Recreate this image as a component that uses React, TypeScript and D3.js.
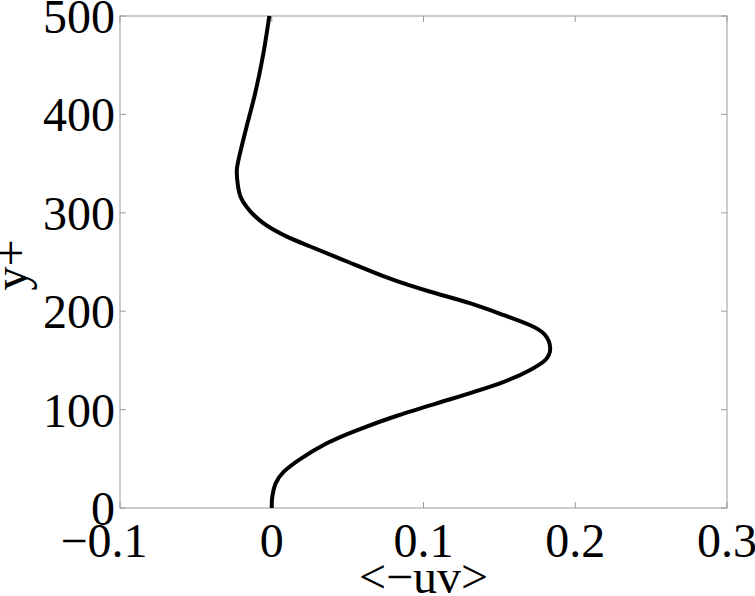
import React from "react";
import * as d3 from "d3";

const yPlus = [0, 11, 25, 37, 50, 66, 79, 94, 110, 128, 140, 150, 162, 176, 186, 196, 208, 220, 233, 249, 266, 275, 283, 290, 298, 306, 316, 330, 344, 360, 388, 421, 462, 500];
const uv = [0, 0.0003, 0.0025, 0.008, 0.019, 0.0366, 0.056, 0.083, 0.1165, 0.1525, 0.17, 0.18, 0.1835, 0.18, 0.17, 0.153, 0.131, 0.104, 0.078, 0.052, 0.025, 0.011, 0.001, -0.006, -0.012, -0.0165, -0.0205, -0.0225, -0.023, -0.021, -0.0165, -0.011, -0.0055, -0.0016];

const xTicks = [-0.1, 0, 0.1, 0.2, 0.3];
const xTickLabels = ["\u22120.1", "0", "0.1", "0.2", "0.3"];
const yTicks = [0, 100, 200, 300, 400, 500];
const yTickLabels = ["0", "100", "200", "300", "400", "500"];
const xLabel = "<\u2212uv>";
const yLabel = "y+";

const W = 755;
const H = 596;
const left = 120;
const right = 727;
const top = 16;
const bottom = 508;

export default function App() {
  const x = d3.scaleLinear().domain([-0.1, 0.3]).range([left, right]);
  const y = d3.scaleLinear().domain([0, 500]).range([bottom, top]);
  const pts: [number, number][] = yPlus.map((v, i) => [uv[i], v]);
  const line = d3
    .line<[number, number]>()
    .x((d) => x(d[0]))
    .y((d) => y(d[1]))
    .curve(d3.curveNatural);
  const font = "'Liberation Serif', 'Times New Roman', serif";
  const axisColor = "#9a9a9a";
  const tl = 6;
  return (
    <svg
      width={W}
      height={H}
      style={{ position: "fixed", left: 0, top: 0, background: "#fff" }}
      fontFamily={font}
    >
      <rect x={0} y={0} width={W} height={H} fill="#fff" />
      {xTicks.map((t, i) => (
        <g key={"xt" + i}>
          <line x1={x(t)} x2={x(t)} y1={bottom} y2={bottom - tl} stroke={axisColor} strokeWidth={1} />
          <line x1={x(t)} x2={x(t)} y1={top} y2={top + tl} stroke={axisColor} strokeWidth={1} />
          <text
            x={x(t)}
            y={557}
            dx={xTickLabels[i].startsWith("\u2212") ? -16 : 0}
            textAnchor="middle"
            fontSize={48}
            fill="#000"
          >
            {xTickLabels[i]}
          </text>
        </g>
      ))}
      {yTicks.map((t, i) => (
        <g key={"yt" + i}>
          <line x1={left} x2={left + tl} y1={y(t)} y2={y(t)} stroke={axisColor} strokeWidth={1} />
          <line x1={right} x2={right - tl} y1={y(t)} y2={y(t)} stroke={axisColor} strokeWidth={1} />
          <text x={115} y={y(t) + 17} textAnchor="end" fontSize={48} fill="#000">
            {yTickLabels[i]}
          </text>
        </g>
      ))}
      <rect
        x={left}
        y={top}
        width={right - left}
        height={bottom - top}
        fill="none"
        stroke={axisColor}
        strokeWidth={1}
      />
      <path d={line(pts) || ""} fill="none" stroke="#000" strokeWidth={4} strokeLinejoin="round" />
      <text x={(left + right) / 2} y={593} textAnchor="middle" fontSize={48} fill="#000">
        {xLabel}
      </text>
      <text
        transform={`translate(27,265) rotate(-90)`}
        textAnchor="middle"
        fontSize={48}
        fill="#000"
      >
        {yLabel}
      </text>
    </svg>
  );
}
